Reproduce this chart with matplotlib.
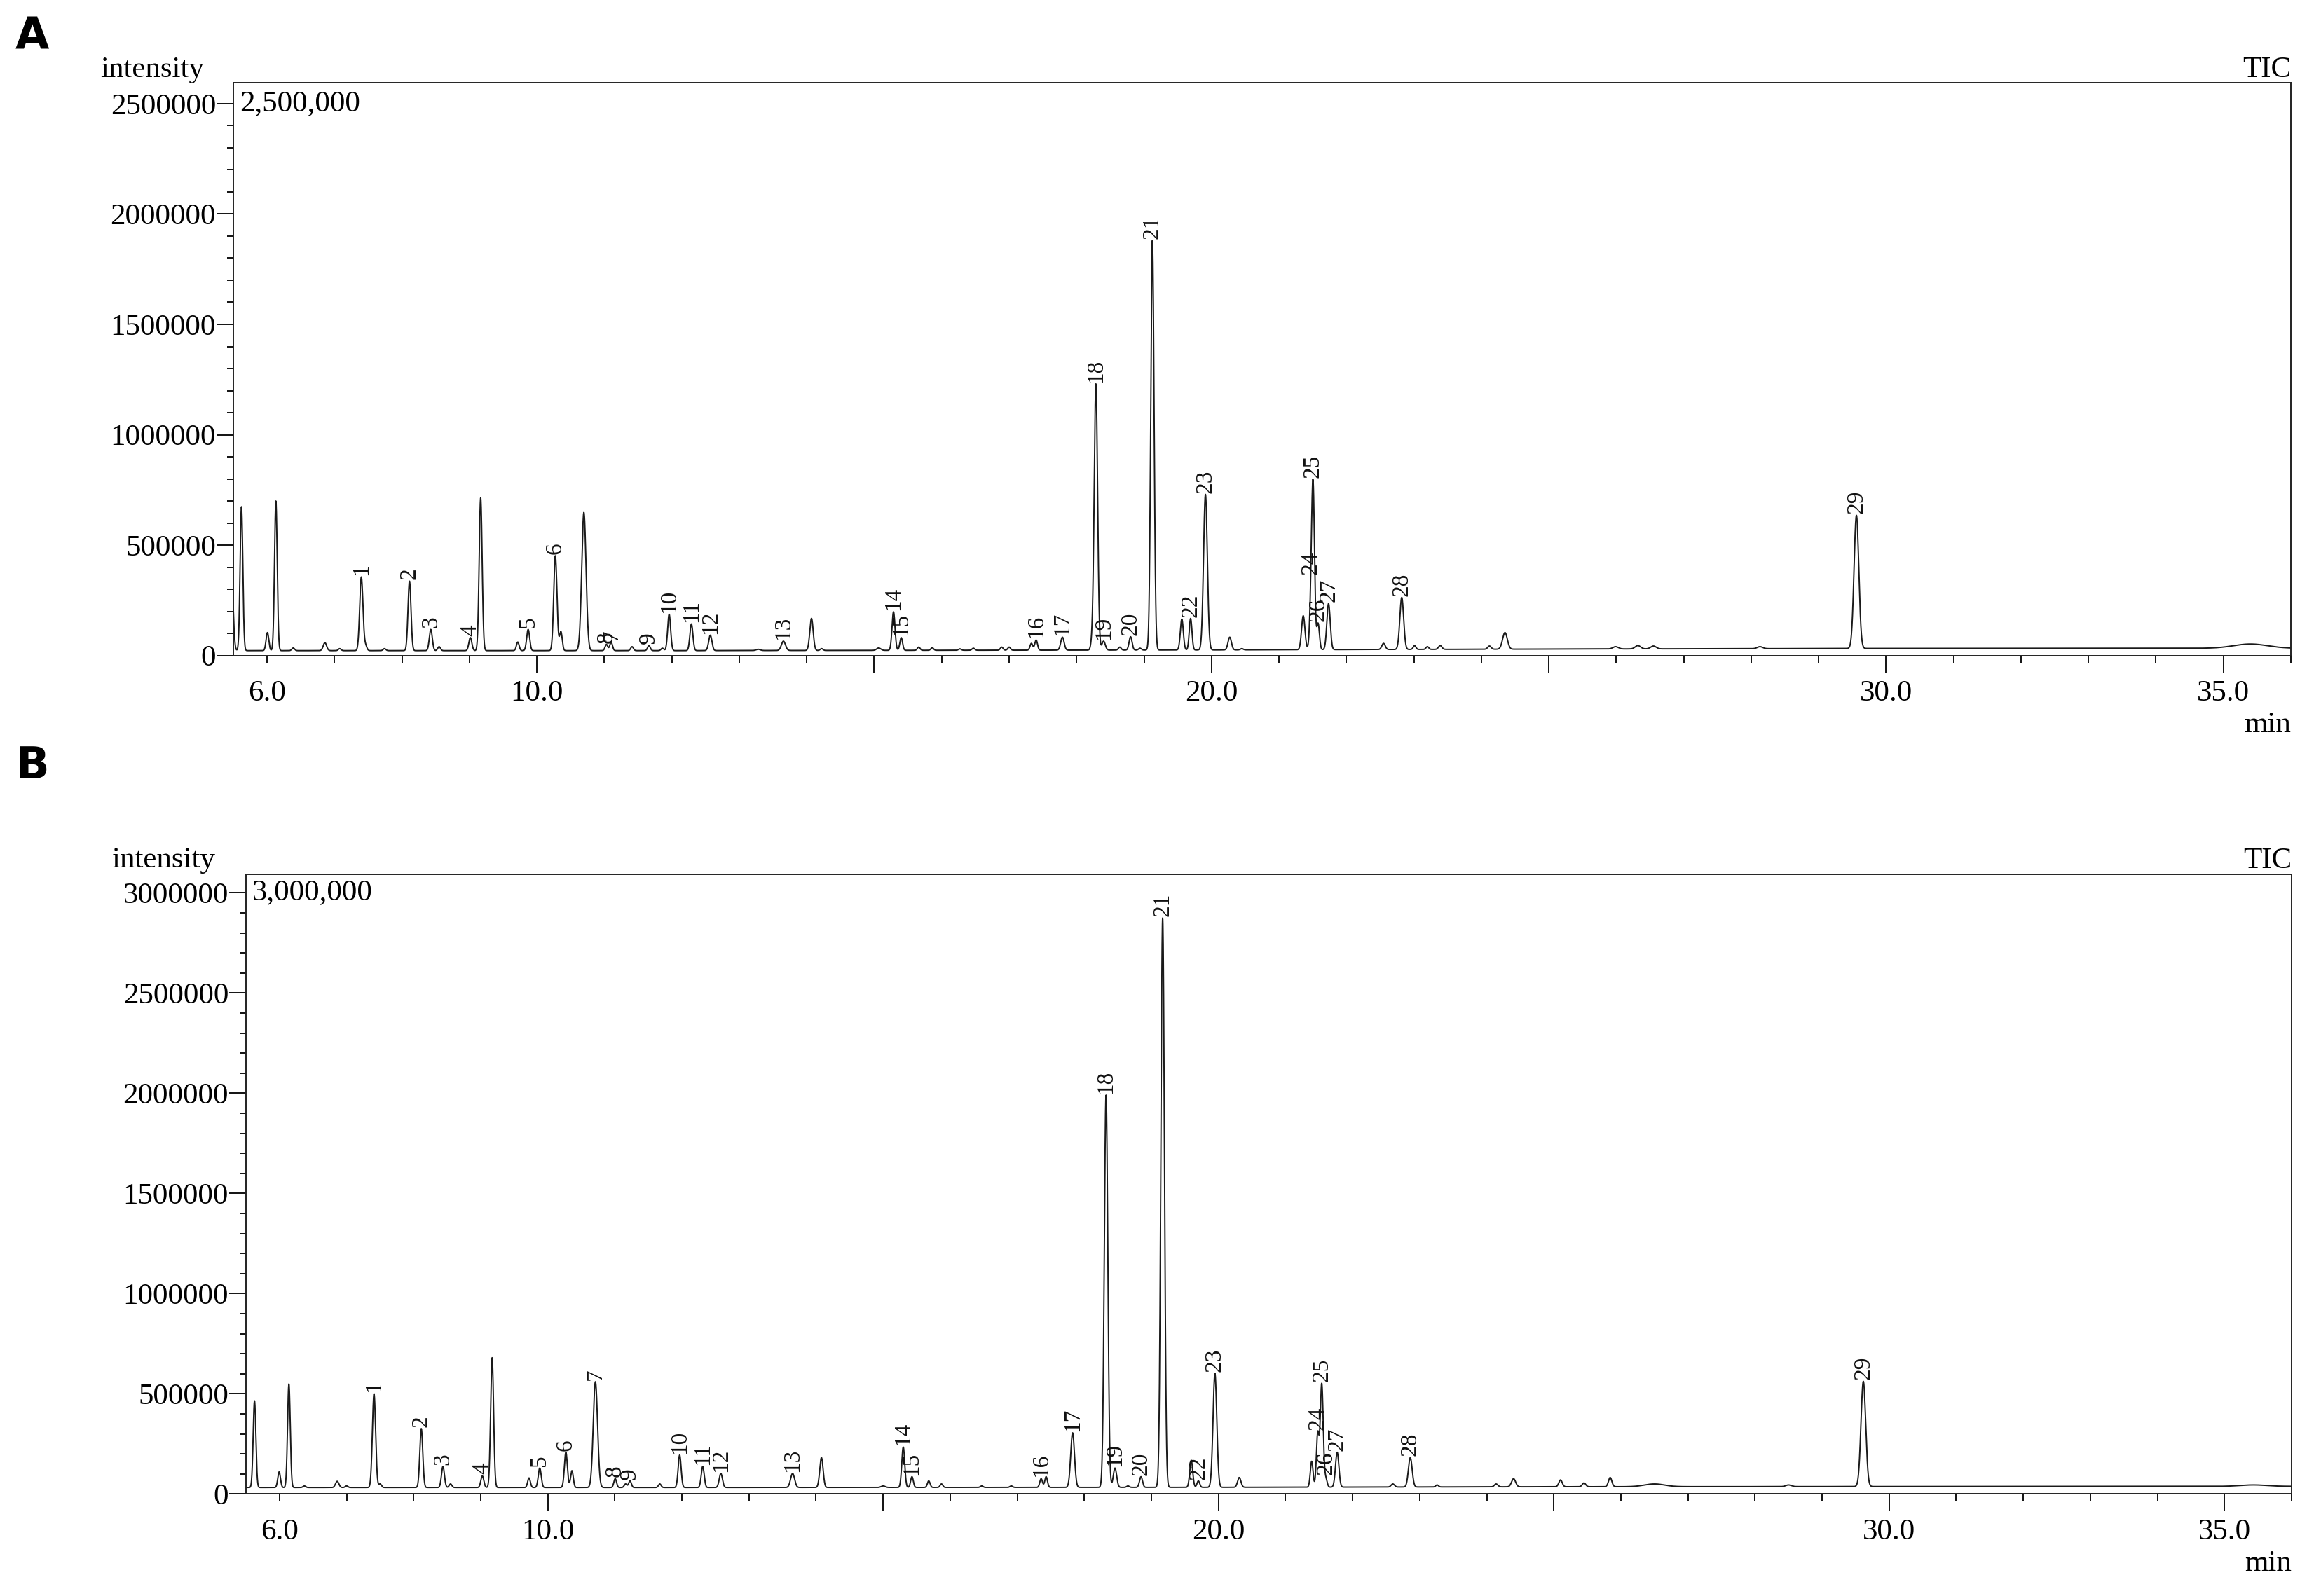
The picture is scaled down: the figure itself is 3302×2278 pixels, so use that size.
"""GC-MS total ion chromatograms (TIC) of two samples, A and B."""

import numpy as np
import matplotlib.pyplot as plt
from matplotlib.ticker import FixedLocator, MultipleLocator, FuncFormatter

plt.rcParams['font.family'] = ['Liberation Serif', 'DejaVu Serif']

W, H, DPI = 3302, 2278, 100

# ---- sample A: peak retention time (min), apex intensity, width (min), label
a_rt = [5.47, 5.62, 6.005, 6.13, 6.387, 6.857, 7.076, 7.397, 7.46, 7.74,
        8.111, 8.427, 8.55, 9.013, 9.166, 9.716, 9.87, 10.273, 10.355, 10.696,
        11.03, 11.10, 11.41, 11.66, 11.86, 11.96, 12.29, 12.57, 13.28, 13.654,
        14.07, 14.22, 15.066, 15.286, 15.40, 15.66, 15.86, 16.27, 16.47, 16.89,
        17.0, 17.33, 17.40, 17.79, 18.23, 18.286, 18.40, 18.64, 18.80, 18.94,
        19.124, 19.56, 19.69, 19.91, 20.27, 20.45, 21.36, 21.47, 21.505, 21.58,
        21.735, 22.55, 22.82, 23.01, 23.2, 23.39, 24.12, 24.35, 25.99, 26.32,
        26.55, 28.13, 29.56, 35.4]
a_height = [400000, 674000, 104000, 700000, 34000, 58000, 31000, 356000, 44000, 31000,
            337000, 118000, 40000, 81000, 714000, 61000, 118000, 452000, 108000, 648000,
            50000, 60000, 40000, 45000, 33000, 187000, 143000, 92000, 28000, 65000,
            168000, 31000, 34000, 198000, 81000, 38000, 35000, 30000, 33000, 38000,
            38000, 55000, 70000, 83000, 57000, 1230000, 65000, 38000, 85000, 33000,
            1880000, 165000, 168000, 730000, 83000, 31000, 180000, 150000, 770000, 145000,
            235000, 55000, 263000, 45000, 40000, 45000, 43000, 104000, 40000, 45000,
            43000, 40000, 635000, 52000]
a_width = [0.025, 0.02, 0.02, 0.02, 0.02, 0.025, 0.02, 0.024, 0.02, 0.02,
           0.022, 0.022, 0.02, 0.022, 0.022, 0.02, 0.022, 0.024, 0.02, 0.032,
           0.02, 0.02, 0.02, 0.02, 0.02, 0.022, 0.022, 0.024, 0.03, 0.03,
           0.025, 0.02, 0.03, 0.022, 0.02, 0.02, 0.02, 0.02, 0.02, 0.02,
           0.02, 0.02, 0.02, 0.025, 0.02, 0.025, 0.025, 0.02, 0.022, 0.02,
           0.024, 0.022, 0.02, 0.028, 0.025, 0.02, 0.025, 0.02, 0.022, 0.02,
           0.025, 0.025, 0.028, 0.02, 0.02, 0.025, 0.025, 0.035, 0.04, 0.04,
           0.04, 0.04, 0.035, 0.25]
a_label = ['', '', '', '', '', '', '', '1', '', '',
           '2', '3', '', '4', '', '', '5', '6', '', '',
           '8', '7', '', '9', '', '10', '11', '12', '', '13',
           '', '', '', '14', '15', '', '', '', '', '',
           '', '', '16', '17', '', '18', '19', '', '20', '',
           '21', '', '22', '23', '', '', '', '24', '25', '26',
           '27', '', '28', '', '', '', '', '', '', '',
           '', '', '29', '']
a_base_t = [5.5, 12.0, 20.0, 25.0, 30.0, 36.0]
a_base_v = [22000, 22000, 25000, 29000, 32000, 33000]

# ---- sample B
b_rt = [5.627, 5.994, 6.14, 6.37, 6.86, 7.0, 7.409, 7.5, 8.114, 8.437,
        8.55, 9.024, 9.17, 9.72, 9.88, 10.27, 10.36, 10.71, 11.005, 11.16,
        11.226, 11.67, 11.966, 12.31, 12.58, 13.65, 14.08, 15.0, 15.30, 15.43,
        15.68, 15.87, 16.47, 16.91, 17.356, 17.43, 17.825, 18.324, 18.457, 18.65,
        18.845, 19.168, 19.594, 19.70, 19.947, 20.31, 21.39, 21.48, 21.54, 21.60,
        21.77, 22.6, 22.86, 23.26, 24.14, 24.40, 25.10, 25.45, 25.84, 26.5,
        28.5, 29.615, 35.43]
b_height = [465000, 110000, 549000, 40000, 63000, 40000, 500000, 50000, 326000, 137000,
            50000, 90000, 680000, 80000, 129000, 208000, 116000, 560000, 76000, 50000,
            65000, 50000, 194000, 137000, 102000, 102000, 181000, 40000, 234000, 86000,
            65000, 50000, 40000, 40000, 76000, 86000, 305000, 1990000, 129000, 40000,
            86000, 2874000, 168000, 65000, 602000, 82000, 163000, 300000, 549000, 76000,
            208000, 50000, 181000, 45000, 50000, 76000, 70000, 55000, 82000, 50000,
            45000, 562000, 45000]
b_width = [0.02, 0.02, 0.02, 0.02, 0.025, 0.02, 0.024, 0.02, 0.022, 0.022,
           0.02, 0.022, 0.022, 0.02, 0.022, 0.022, 0.02, 0.032, 0.02, 0.02,
           0.02, 0.02, 0.022, 0.022, 0.024, 0.03, 0.025, 0.03, 0.022, 0.02,
           0.02, 0.02, 0.02, 0.02, 0.02, 0.02, 0.028, 0.026, 0.025, 0.02,
           0.022, 0.026, 0.022, 0.02, 0.028, 0.025, 0.02, 0.02, 0.022, 0.02,
           0.025, 0.025, 0.028, 0.02, 0.025, 0.03, 0.025, 0.025, 0.025, 0.15,
           0.04, 0.035, 0.2]
b_label = ['', '', '', '', '', '', '1', '', '2', '3',
           '', '4', '', '', '5', '6', '', '7', '8', '',
           '9', '', '10', '11', '12', '13', '', '', '14', '15',
           '', '', '', '', '16', '', '17', '18', '19', '',
           '20', '21', '', '22', '23', '', '', '24', '25', '26',
           '27', '', '28', '', '', '', '', '', '', '',
           '', '29', '']
b_base_t = [5.5, 12.0, 20.0, 25.0, 30.0, 36.0]
b_base_v = [32000, 32000, 33000, 36000, 37000, 38000]


def px(x, y):
    """Pixel position of the reference image -> figure fraction."""
    return x / W, 1 - y / H


def build_trace(t, rt, height, width, base_t, base_v):
    """Sum of gaussian peaks sitting on the read baseline."""
    y = np.interp(t, base_t, base_v)
    for r, h, w in zip(rt, height, width):
        amp = h - np.interp(r, base_t, base_v)
        y = y + amp * np.exp(-0.5 * ((t - r) / w) ** 2)
    return y


def draw_panel(fig, rect, rt, height, width, labels, base_t, base_v, ytop, yticks_max):
    ax = fig.add_axes(rect)
    t = np.arange(5.3, 36.2, 0.002)
    sig = build_trace(t, rt, height, width, base_t, base_v)
    ax.plot(t, sig, color='#1a1a1a', lw=1.4)

    # peak numbers, rotated, sitting on the apex
    apex = build_trace(np.array(rt), rt, height, width, base_t, base_v)
    for r, yv, lab in zip(rt, apex, labels):
        if lab:
            ax.annotate(lab, (r, yv), xytext=(0, 1.5), textcoords='offset points',
                        rotation=90, ha='center', va='bottom', fontsize=24,
                        color='#111111')

    ax.set_xlim(5.5, 36.0)
    ax.set_ylim(0, ytop)

    ax.xaxis.set_major_locator(FixedLocator([5, 10, 15, 20, 25, 30, 35]))
    ax.xaxis.set_major_formatter(FuncFormatter(
        lambda v, p: f'{v:.1f}' if v in (10, 20, 30, 35) else ''))
    ax.xaxis.set_minor_locator(MultipleLocator(1))
    ax.xaxis.set_minor_formatter(FuncFormatter(
        lambda v, p: '6.0' if abs(v - 6) < 1e-6 else ''))

    ax.yaxis.set_major_locator(MultipleLocator(500000))
    ax.yaxis.set_minor_locator(MultipleLocator(100000))
    ax.yaxis.set_major_formatter(FuncFormatter(
        lambda v, p: f'{int(round(v))}' if v <= yticks_max + 1 else ''))

    ax.tick_params(axis='x', which='major', length=17, width=1.3, pad=8,
                   labelsize=31, direction='out')
    ax.tick_params(axis='x', which='minor', length=7.5, width=1.3, pad=17.5,
                   labelsize=31, direction='out')
    ax.tick_params(axis='y', which='major', length=17, width=1.3, pad=1,
                   labelsize=31, direction='out')
    ax.tick_params(axis='y', which='minor', length=6.5, width=1.3, direction='out')
    ax.tick_params(top=False, right=False)
    for s in ax.spines.values():
        s.set_linewidth(1.4)
        s.set_color('#222222')

    ax.text(0.003, yticks_max, f'{yticks_max:,}', transform=ax.get_yaxis_transform(),
            ha='left', va='center', fontsize=31)
    return ax


fig = plt.figure(figsize=(W / DPI, H / DPI), dpi=DPI)

# panel A
l, b = px(333, 935.6)
r, t = px(3269, 118)
draw_panel(fig, [l, b, r - l, t - b], a_rt, a_height, a_width, a_label,
           a_base_t, a_base_v, 2595000, 2500000)

# panel B
l, b = px(351, 2132.3)
r, t = px(3270, 1248)
draw_panel(fig, [l, b, r - l, t - b], b_rt, b_height, b_width, b_label,
           b_base_t, b_base_v, 3092000, 3000000)

# captions around the frames
for (x, y), s, ha in [(px(291, 110), 'intensity', 'right'),
                      (px(3269, 110), 'TIC', 'right'),
                      (px(3269, 1045), 'min', 'right'),
                      (px(307, 1238), 'intensity', 'right'),
                      (px(3270, 1239), 'TIC', 'right'),
                      (px(3270, 2242), 'min', 'right')]:
    fig.text(x, y, s, ha=ha, va='baseline', fontsize=31)

for (x, y), s in [(px(22, 70), 'A'), (px(22, 1111), 'B')]:
    fig.text(x, y, s, ha='left', va='baseline', fontsize=45, fontweight='bold',
             family='DejaVu Sans')

fig.savefig('out.png', dpi=DPI, facecolor='white')
